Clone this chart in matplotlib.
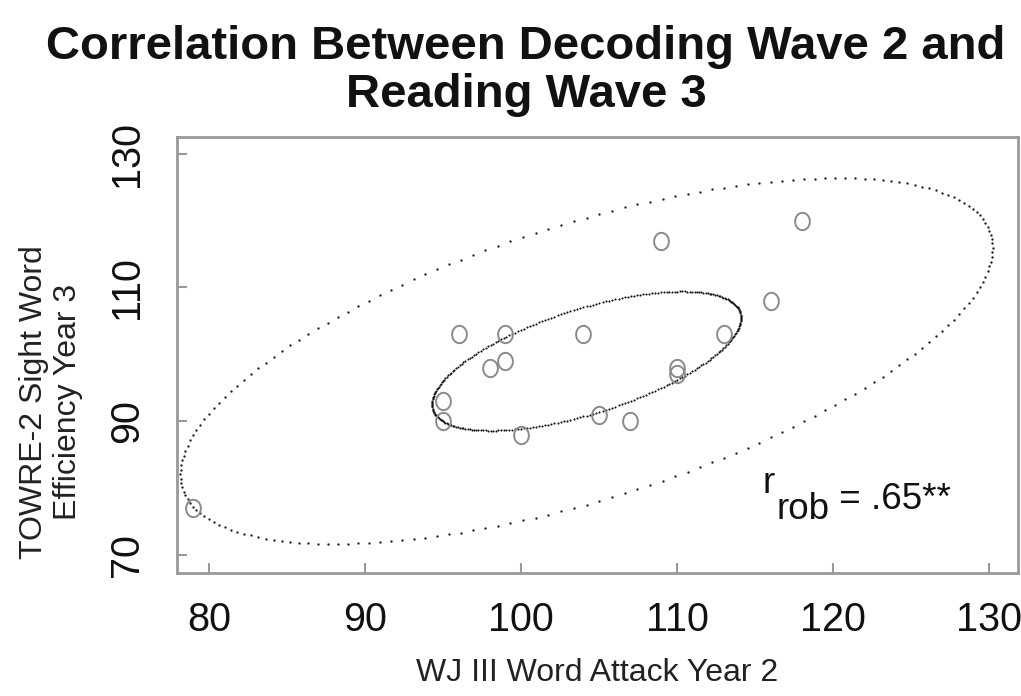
import numpy as np
import matplotlib
matplotlib.use("Agg")
import matplotlib.pyplot as plt
from matplotlib.path import Path

# ---- data ----
wj_attack_y2 = [79, 95, 95, 96, 98, 99, 99, 100, 104, 105, 107, 109, 110, 110, 113, 116, 118]
towre_swe_y3 = [77, 93, 90, 103, 98, 103, 99, 88, 103, 91, 90, 117, 98, 97, 103, 108, 120]

ellipse_center = [104.2, 99.0]
ellipse_sd = [9.9, 10.4]
ellipse_r = 0.62
ellipse_scales = [1.0, 2.63]      # inner, outer
ellipse_npts = [300, 200]

x_ticks = [80, 90, 100, 110, 120, 130]
y_ticks = [70, 90, 110, 130]
x_lim = [77.95, 131.86]
y_lim = [67.3, 132.5]

title = "Correlation Between Decoding Wave 2 and\nReading Wave 3"
x_label = "WJ III Word Attack Year 2"
y_label = "TOWRE-2 Sight Word\nEfficiency Year 3"

plt.rcParams['font.family'] = ['Liberation Sans', 'DejaVu Sans']

fig = plt.figure(figsize=(10.21, 6.96), dpi=100)
ax = fig.add_axes([177/1021, 1 - 573/696, (1018-177)/1021, (573-137)/696])

# ellipses
cov = np.array([[ellipse_sd[0]**2, ellipse_r*ellipse_sd[0]*ellipse_sd[1]],
                [ellipse_r*ellipse_sd[0]*ellipse_sd[1], ellipse_sd[1]**2]])
L = np.linalg.cholesky(cov)
for sc, n, ms, col in zip(ellipse_scales, ellipse_npts, [1.5, 1.7], ['#111111', '#222222']):
    t = np.linspace(0, 2*np.pi, n, endpoint=False)
    pts = np.array(ellipse_center)[:, None] + sc * L @ np.vstack([np.cos(t), np.sin(t)])
    ax.plot(pts[0], pts[1], linestyle='none', marker='o', markersize=ms,
            markeredgewidth=0, color=col, zorder=2)

# slightly oval open-circle marker
a = np.linspace(0, 2*np.pi, 41)
oval = Path(np.column_stack([0.85*np.cos(a), np.sin(a)]), closed=True)
ax.plot(wj_attack_y2, towre_swe_y3, linestyle='none', marker=oval, markersize=12.5,
        markerfacecolor='none', markeredgecolor='#8a8a8a', markeredgewidth=1.4, zorder=3)

ax.set_xlim(x_lim)
ax.set_ylim(y_lim)
ax.set_xticks(x_ticks)
ax.set_yticks(y_ticks)
ax.tick_params(direction='in', length=7, width=1.5, color='#999999', labelsize=28.5,
               labelcolor='#111111')
ax.tick_params(axis='x', pad=20)
ax.tick_params(axis='y', pad=22)
for lab in ax.get_yticklabels():
    lab.set_rotation(90)
    lab.set_va('center')
for sp in ax.spines.values():
    sp.set_color('#999999')
    sp.set_linewidth(2)

ax.set_xlabel(x_label, fontsize=23, color='#222222', labelpad=14)
fig.text(51/1021, 1 - 402/696, y_label, rotation=90, fontsize=23, color='#222222',
         ha='center', va='center', multialignment='center', linespacing=1.15)

fig.text(526/1021, 1 - 107/696, title, fontsize=34, fontweight='bold', color='#111111',
         ha='center', va='baseline', multialignment='center', linespacing=1.13)

# r_rob annotation
t1 = ax.text(115.5, 79.25, "r", fontsize=26.5, color='#111111', va='baseline', ha='left')
t2 = ax.annotate("rob", xy=(1, 0), xycoords=t1, xytext=(1, -13), textcoords='offset points',
                 fontsize=26.5, color='#111111', va='baseline', ha='left')
t3 = ax.annotate(" = .65**", xy=(1, 0), xycoords=t2, xytext=(0, 13), textcoords='offset points',
                 fontsize=26.5, color='#111111', va='baseline', ha='left')

fig.savefig("out.png", dpi=100)
